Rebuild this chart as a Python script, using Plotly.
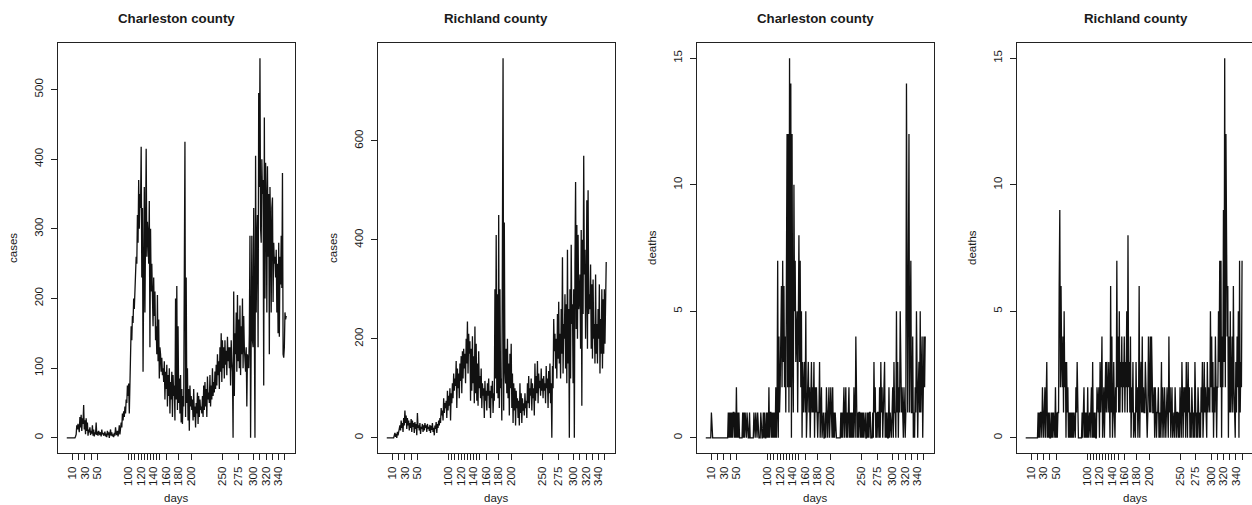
import plotly.graph_objects as go

# ---------------- data ----------------
charleston_cases = [
    0, 0, 0, 0, 0, 0, 0, 0, 0, 0,
    0, 0, 0, 0, 2, 5, 18, 12, 20, 15,
    8, 30, 15, 33, 10, 28, 20, 47, 12, 25,
    5, 28, 10, 22, 3, 12, 8, 15, 4, 10,
    6, 18, 3, 12, 2, 8, 5, 22, 4, 9,
    3, 10, 6, 4, 8, 2, 12, 5, 7, 3,
    5, 9, 2, 6, 1, 10, 4, 8, 0, 6,
    12, 3, 8, 2, 5, 1, 7, 3, 15, 6,
    4, 10, 2, 8, 18, 5, 12, 22, 15, 35,
    25, 38, 30, 45, 35, 55, 50, 75, 60, 78,
    35, 90, 110, 160, 140, 175, 165, 200, 185, 210,
    240, 260, 250, 320, 280, 370, 300, 350, 330, 418,
    230, 330, 95, 300, 360, 180, 290, 415, 260, 310,
    290, 250, 340, 130, 300, 210, 250, 185, 160, 230,
    175, 210, 140, 160, 120, 205, 110, 170, 85, 130,
    120, 95, 115, 90, 100, 80, 110, 55, 95, 70,
    105, 45, 90, 60, 100, 35, 80, 55, 95, 30,
    90, 60, 75, 25, 200, 55, 218, 40, 160, 50,
    85, 35, 90, 22, 70, 20, 60, 45, 233, 425,
    30, 230, 50, 100, 25, 70, 10, 75, 45, 60,
    40, 55, 25, 70, 30, 45, 15, 50, 35, 65,
    20, 60, 30, 55, 40, 45, 35, 60, 30, 75,
    40, 80, 45, 70, 30, 88, 55, 65, 50, 90,
    45, 75, 55, 100, 60, 80, 65, 95, 70, 105,
    75, 120, 90, 110, 70, 130, 95, 150, 80, 140,
    100, 130, 85, 140, 105, 125, 90, 145, 110, 130,
    100, 130, 75, 140, 110, 95, 0, 210, 60, 150,
    120, 180, 95, 205, 110, 170, 100, 190, 90, 160,
    120, 200, 100, 175, 130, 115, 95, 130, 45, 120,
    110, 100, 150, 290, 0, 200, 290, 140, 130, 330,
    110, 0, 405, 180, 280, 320, 130, 495, 360, 545,
    300, 280, 400, 350, 370, 75, 460, 200, 395, 340,
    180, 390, 260, 350, 120, 360, 300, 180, 330, 345,
    195, 280, 250, 260, 230, 270, 180, 250, 150, 280,
    145, 260, 220, 290, 215, 380, 120, 115, 130, 180,
    170, 175,
]

richland_cases = [
    0, 0, 0, 0, 0, 0, 0, 0, 0, 0,
    0, 0, 5, 10, 2, 8, 0, 12, 5, 10,
    20, 25, 15, 35, 20, 30, 12, 40, 25, 55,
    30, 45, 18, 40, 25, 35, 15, 30, 20, 38,
    12, 35, 22, 30, 10, 32, 18, 28, 5, 50,
    20, 25, 15, 30, 8, 22, 18, 28, 12, 25,
    15, 30, 20, 25, 12, 28, 18, 22, 14, 26,
    10, 24, 16, 30, 12, 20, 5, 25, 18, 32,
    10, 28, 20, 35, 25, 40, 30, 60, 45, 55,
    35, 80, 50, 70, 60, 75, 40, 95, 55, 85,
    65, 100, 35, 90, 70, 110, 80, 130, 95, 120,
    105, 155, 60, 140, 100, 130, 80, 150, 115, 165,
    90, 175, 120, 180, 140, 170, 110, 200, 150, 235,
    130, 210, 170, 195, 75, 180, 95, 205, 110, 165,
    70, 225, 90, 190, 75, 150, 65, 175, 100, 125,
    80, 140, 60, 110, 85, 100, 40, 115, 75, 95,
    55, 110, 85, 120, 60, 95, 40, 105, 80, 115,
    50, 90, 75, 300, 120, 410, 90, 290, 80, 450,
    60, 300, 100, 120, 35, 280, 767, 55, 435, 140,
    110, 180, 90, 200, 80, 150, 45, 170, 100, 190,
    60, 130, 30, 110, 55, 100, 25, 95, 60, 80,
    40, 75, 25, 110, 50, 90, 30, 80, 55, 70,
    45, 90, 60, 75, 40, 110, 70, 125, 60, 100,
    85, 120, 55, 110, 80, 100, 45, 150, 75, 125,
    90, 155, 70, 130, 100, 115, 85, 140, 95, 120,
    80, 125, 95, 110, 70, 145, 100, 120, 60, 135,
    90, 150, 70, 110, 0, 145, 100, 240, 175, 210,
    140, 200, 120, 250, 160, 275, 150, 210, 120, 260,
    170, 365, 130, 230, 200, 290, 140, 270, 110, 380,
    150, 260, 0, 300, 120, 390, 230, 270, 110, 300,
    0, 350, 517, 220, 430, 200, 410, 260, 280, 330,
    180, 420, 65, 400, 250, 570, 330, 380, 200, 300,
    480, 180, 500, 250, 290, 260, 350, 180, 310, 160,
    320, 200, 230, 150, 330, 170, 230, 150, 260, 200,
    310, 130, 240, 170, 300, 140, 280, 170, 300, 190,
    310, 355,
]

charleston_deaths = [
    0, 0, 0, 0, 0, 0, 0, 0, 0, 1,
    0, 0, 0, 0, 0, 0, 0, 0, 0, 0,
    0, 0, 0, 0, 0, 0, 0, 0, 0, 0,
    0, 0, 0, 0, 0, 0, 1, 0, 1, 0,
    1, 0, 1, 0, 1, 1, 0, 1, 0, 2,
    0, 1, 0, 1, 0, 0, 0, 0, 0, 1,
    0, 1, 0, 1, 0, 0, 1, 0, 0, 0,
    1, 0, 0, 0, 0, 0, 0, 1, 0, 0,
    1, 0, 0, 1, 0, 0, 0, 0, 1, 0,
    0, 0, 1, 0, 1, 0, 0, 1, 0, 1,
    0, 2, 0, 1, 1, 0, 1, 0, 1, 0,
    1, 0, 2, 0, 1, 7, 0, 4, 1, 2,
    5, 6, 2, 7, 3, 6, 2, 4, 1, 9,
    12, 2, 12, 1, 15, 2, 14, 0, 12, 3,
    1, 10, 5, 7, 3, 4, 5, 1, 6, 8,
    3, 7, 2, 5, 0, 3, 1, 2, 3, 1,
    5, 0, 1, 2, 3, 1, 2, 0, 1, 3,
    1, 2, 1, 3, 0, 2, 1, 2, 1, 0,
    1, 1, 3, 0, 1, 2, 0, 1, 1, 0,
    0, 1, 0, 2, 1, 0, 1, 2, 0, 1,
    2, 1, 0, 2, 0, 1, 0, 1, 0, 0,
    0, 0, 0, 0, 0, 0, 1, 0, 1, 0,
    1, 2, 0, 1, 2, 0, 1, 0, 1, 2,
    0, 1, 0, 1, 0, 1, 0, 2, 1, 0,
    4, 1, 0, 1, 0, 1, 1, 0, 1, 0,
    1, 0, 1, 0, 1, 1, 0, 0, 1, 0,
    1, 0, 1, 1, 0, 0, 0, 1, 0, 3,
    1, 2, 0, 1, 0, 1, 1, 0, 2, 0,
    3, 1, 2, 0, 1, 2, 3, 0, 1, 0,
    1, 0, 0, 2, 0, 1, 0, 0, 1, 2,
    0, 3, 1, 1, 0, 5, 1, 3, 0, 2,
    1, 5, 3, 1, 2, 1, 0, 2, 1, 0,
    1, 14, 7, 1, 6, 12, 1, 4, 7, 1,
    1, 4, 0, 1, 0, 2, 1, 5, 3, 0,
    2, 3, 1, 5, 1, 2, 4, 0, 3, 4,
    2, 4,
]

richland_deaths = [
    0, 0, 0, 0, 0, 0, 0, 0, 0, 0,
    0, 0, 0, 0, 0, 0, 0, 0, 0, 0,
    1, 0, 1, 0, 1, 1, 0, 2, 1, 0,
    1, 2, 0, 1, 3, 0, 1, 0, 1, 0,
    0, 1, 0, 1, 0, 1, 0, 0, 2, 0,
    1, 0, 1, 1, 6, 9, 2, 6, 3, 2,
    4, 1, 5, 2, 3, 0, 3, 1, 2, 0,
    1, 0, 1, 0, 1, 0, 1, 0, 1, 0,
    0, 2, 1, 3, 0, 0, 0, 0, 0, 0,
    0, 1, 0, 1, 2, 0, 1, 0, 1, 0,
    2, 0, 1, 1, 0, 1, 2, 0, 3, 0,
    1, 0, 1, 0, 0, 2, 1, 1, 2, 0,
    3, 1, 2, 4, 0, 1, 2, 0, 1, 3,
    1, 3, 2, 1, 3, 2, 0, 6, 1, 4,
    0, 1, 3, 1, 0, 2, 1, 7, 2, 4,
    1, 5, 1, 3, 2, 4, 1, 3, 2, 4,
    1, 3, 2, 5, 1, 8, 2, 3, 1, 4,
    0, 2, 1, 3, 0, 1, 1, 0, 3, 1,
    2, 0, 1, 6, 0, 2, 3, 1, 4, 1,
    2, 1, 1, 3, 2, 1, 0, 1, 4, 2,
    1, 4, 1, 4, 2, 1, 1, 2, 0, 2,
    1, 0, 1, 1, 2, 0, 1, 0, 1, 3,
    0, 2, 1, 0, 2, 1, 0, 1, 2, 1,
    0, 4, 1, 2, 0, 1, 2, 0, 1, 1,
    0, 2, 1, 0, 1, 1, 0, 1, 0, 2,
    1, 0, 3, 1, 0, 2, 1, 2, 0, 3,
    1, 0, 3, 1, 2, 0, 1, 0, 2, 1,
    0, 1, 0, 3, 1, 0, 1, 0, 2, 1,
    0, 1, 0, 2, 1, 3, 0, 1, 3, 1,
    2, 1, 0, 3, 1, 2, 1, 1, 5, 2,
    4, 1, 3, 0, 2, 1, 4, 1, 0, 2,
    2, 5, 3, 7, 2, 7, 0, 4, 2, 9,
    3, 15, 2, 12, 8, 4, 6, 0, 4, 1,
    5, 1, 2, 4, 1, 6, 2, 1, 0, 3,
    1, 4, 2, 5, 0, 7, 1, 3, 2, 7,
]

titles = ["Charleston county", "Richland county", "Charleston county", "Richland county"]
y_titles = ["cases", "cases", "deaths", "deaths"]
series = [charleston_cases, richland_cases, charleston_deaths, richland_deaths]

x_tick_vals = [10, 20, 30, 40, 50, 100, 105, 110, 115, 120, 125, 130, 135, 140, 145, 150,
               160, 180, 200, 250, 275, 300, 310, 320, 330, 340, 350]
x_tick_text = ["10", "", "30", "", "50", "100", "", "", "", "120", "", "", "", "140", "", "",
               "160", "180", "200", "250", "275", "300", "", "320", "", "340", ""]
y_tick_sets = [[0, 100, 200, 300, 400, 500], [0, 200, 400, 600], [0, 5, 10, 15], [0, 5, 10, 15]]

# ---------------- layout geometry ----------------
W, H = 1252, 505
box_left = [58, 378, 697, 1017]
box_w = 237
box_top, box_bottom = 43, 453
y_ranges = [[-21.8, 566.8], [-30.7, 797.7], [-0.6, 15.6], [-0.6, 15.6]]
x_range = [-13.04, 366.04]

FONT = "Liberation Sans, Arial, Helvetica, sans-serif"
TXT = "#1a1a1a"
fig = go.Figure()
annotations = []
layout = dict(
    width=W, height=H, margin=dict(l=0, r=0, t=0, b=0),
    paper_bgcolor="white", plot_bgcolor="white", showlegend=False,
    font=dict(family=FONT, size=11.5, color=TXT),
)

for i, vals in enumerate(series):
    n = i + 1
    xa = "x" if n == 1 else f"x{n}"
    ya = "y" if n == 1 else f"y{n}"
    days = list(range(1, len(vals) + 1))
    fig.add_trace(go.Scatter(x=days, y=vals, mode="lines", xaxis=xa, yaxis=ya,
                             line=dict(color="#111111", width=1.3), hoverinfo="skip"))
    x0 = box_left[i] / W
    x1 = min((box_left[i] + box_w) / W, 1.0)
    y0 = 1 - box_bottom / H
    y1 = 1 - box_top / H
    clipped = (box_left[i] + box_w) > W
    axis_common = dict(showgrid=False, zeroline=False, showline=True,
                       linecolor="#222222", linewidth=1.2, ticks="outside", ticklen=6,
                       tickcolor="#222222", tickwidth=1,
                       tickfont=dict(family=FONT, size=11.5, color=TXT))
    layout["xaxis" if n == 1 else f"xaxis{n}"] = dict(
        domain=[x0, x1], range=x_range, anchor=ya, tickmode="array", mirror=True,
        tickvals=x_tick_vals, ticktext=x_tick_text, tickangle=-90,
        ticklabelstandoff=2, **axis_common)
    layout["yaxis" if n == 1 else f"yaxis{n}"] = dict(
        domain=[y0, y1], range=y_ranges[i], anchor=xa, tickmode="array",
        mirror=(not clipped),
        tickvals=y_tick_sets[i], ticktext=[str(v) for v in y_tick_sets[i]],
        tickangle=-90, ticklabelstandoff=3, **axis_common)
    cx = (box_left[i] + box_w / 2) / W
    annotations.append(dict(text=f"<b>{titles[i]}</b>", x=cx, y=1 - 18 / H, xref="paper",
                            yref="paper", showarrow=False, xanchor="center", yanchor="middle",
                            font=dict(family=FONT, size=13.3, color=TXT)))
    annotations.append(dict(text="days", x=cx, y=1 - 498 / H, xref="paper", yref="paper",
                            showarrow=False, xanchor="center", yanchor="middle",
                            font=dict(family=FONT, size=11.5, color=TXT)))
    annotations.append(dict(text=y_titles[i], x=(box_left[i] - 45) / W, y=1 - 248 / H,
                            xref="paper", yref="paper", showarrow=False, textangle=-90,
                            xanchor="center", yanchor="middle",
                            font=dict(family=FONT, size=11.5, color=TXT)))

layout["annotations"] = annotations
fig.update_layout(**layout)
fig.write_html("out.html")
